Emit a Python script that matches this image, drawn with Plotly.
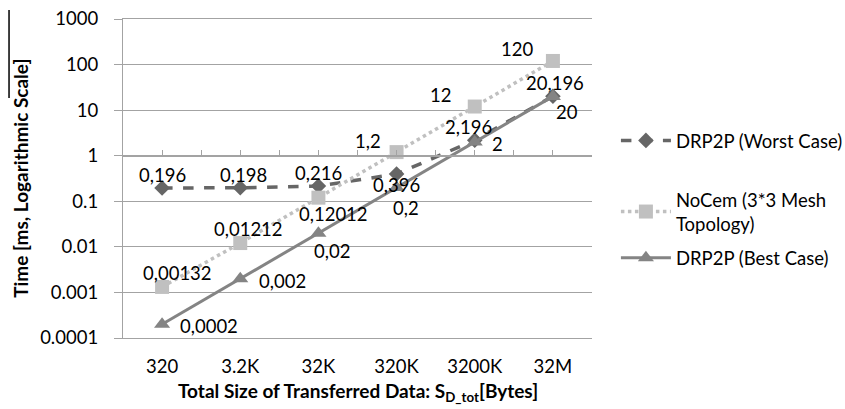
import math
import plotly.graph_objects as go

categories = ["320", "3.2K", "32K", "320K", "3200K", "32M"]
worst_case = [0.196, 0.198, 0.216, 0.396, 2.196, 20.196]
worst_labels = ["0,196", "0,198", "0,216", "0,396", "2,196", "20,196"]
nocem = [0.00132, 0.01212, 0.12012, 1.2, 12, 120]
nocem_labels = ["0,00132", "0,01212", "0,12012", "1,2", "12", "120"]
best_case = [0.0002, 0.002, 0.02, 0.2, 2, 20]
best_labels = ["0,0002", "0,002", "0,02", "0,2", "2", "20"]
y_ticks = [0.0001, 0.001, 0.01, 0.1, 1, 10, 100, 1000]
y_ticktext = ["0.0001", "0.001", "0.01", "0.1", "1", "10", "100", "1000"]

# label offsets (style): (dx, dy) in px
worst_off = [(0, 13), (3, 13), (0, 13), (0, -11), (-6, 13), (2, 13)]
nocem_off = [(15, 14), (8, 14), (15, -16), (-29, 11), (-34, 12), (-36, 12)]
best_off = [(47, -2), (42, -2), (14, -18), (9, -20), (23, -2), (14, -16)]

FONT = "Lato"
FS = 18.5
GRID = "#a3a3a3"
C_WORST = "#666666"
C_NOCEM = "#c0c0c0"
C_BEST = "#848484"

fig = go.Figure()
fig.add_trace(go.Scatter(
    x=categories, y=worst_case, name="DRP2P (Worst Case)", mode="lines+markers",
    line=dict(color=C_WORST, width=3.5, dash="dash"),
    marker=dict(symbol="diamond", size=12, color=C_WORST), legend="legend"))
fig.add_trace(go.Scatter(
    x=categories, y=nocem, name="NoCem (3*3 Mesh<br>Topology)", mode="lines+markers",
    line=dict(color=C_NOCEM, width=3.5, dash="dot"),
    marker=dict(symbol="square", size=14, color=C_NOCEM), legend="legend2"))
fig.add_trace(go.Scatter(
    x=categories, y=best_case, name="DRP2P (Best Case)", mode="lines+markers",
    line=dict(color=C_BEST, width=3),
    marker=dict(symbol="triangle-up", size=14, color=C_BEST), legend="legend3"))

# invisible helper trace so the overlaying x axis (crossing at y=1) is drawn
fig.add_trace(go.Scatter(x=[0], y=[1], xaxis="x2", mode="markers",
                         marker=dict(opacity=0), showlegend=False, hoverinfo="skip"))

annotations = []
for vals, labs, offs in [(worst_case, worst_labels, worst_off),
                         (nocem, nocem_labels, nocem_off),
                         (best_case, best_labels, best_off)]:
    for i, (v, t, (dx, dy)) in enumerate(zip(vals, labs, offs)):
        annotations.append(dict(x=i, y=math.log10(v), xref="x", yref="y", text=t,
                                showarrow=False, xshift=dx, yshift=dy,
                                xanchor="center", yanchor="middle",
                                font=dict(family=FONT, size=FS, color="#000000")))

annotations.append(dict(
    text="<b>Total Size of Transferred Data: S<sub>D_tot</sub>[Bytes]</b>",
    x=0.5, y=-0.168, xref="paper", yref="paper", showarrow=False,
    xanchor="center", yanchor="middle", font=dict(family=FONT, size=19, color="#000")))
annotations.append(dict(
    text="<b>Time [ms, Logarithmic Scale]</b>", textangle=-90,
    x=-0.219, y=0.5, xref="paper", yref="paper", showarrow=False,
    xanchor="center", yanchor="middle", font=dict(family=FONT, size=19, color="#000")))

legend_common = dict(font=dict(family=FONT, size=18.5, color="#000"), bgcolor="rgba(0,0,0,0)",
                     xanchor="left", yanchor="middle", itemwidth=50, tracegroupgap=0)

fig.update_layout(
    width=845, height=409,
    margin=dict(l=123, r=253, t=19, b=71, autoexpand=False),
    paper_bgcolor="white", plot_bgcolor="white",
    font=dict(family=FONT, size=FS, color="#000"),
    showlegend=True,
    legend=dict(x=1.051, y=0.618, **legend_common),
    legend2=dict(x=1.051, y=0.395, **legend_common),
    legend3=dict(x=1.051, y=0.25, **legend_common),
    xaxis=dict(type="category", range=[-0.5, 5.5], showgrid=False, showline=True,
               linecolor=GRID, linewidth=1.3, mirror=True, ticks="", zeroline=False,
               automargin=False,
               tickfont=dict(family=FONT, size=FS, color="#000"), ticklabelstandoff=12),
    xaxis2=dict(type="linear", range=[-0.5, 5.5], overlaying="x", anchor="free",
                position=4 / 7, side="bottom", showgrid=False, showline=True,
                linecolor=GRID, linewidth=1.5, ticks="inside", ticklen=5,
                tickcolor=GRID, tickwidth=1.3, tickvals=[i * 0.5 - 0.5 for i in range(13)],
                showticklabels=False, zeroline=False, automargin=False),
    yaxis=dict(type="log", range=[-4, 3], tickvals=y_ticks, ticktext=y_ticktext,
               showgrid=True, gridcolor=GRID, gridwidth=1.3, showline=True,
               linecolor=GRID, linewidth=1.3, ticks="outside", ticklen=8,
               tickcolor=GRID, tickwidth=1.3, zeroline=False, ticklabelstandoff=12,
               automargin=False,
               tickfont=dict(family=FONT, size=FS, color="#000")),
    annotations=annotations,
    shapes=[dict(type="line", xref="paper", yref="paper", x0=-0.243, x1=-0.243,
                 y0=1.028, y1=0.752, line=dict(color="#000", width=1.5))],
)

fig.write_html("out.html", config={"displayModeBar": False},
               post_script="document.body.style.margin='0';")
